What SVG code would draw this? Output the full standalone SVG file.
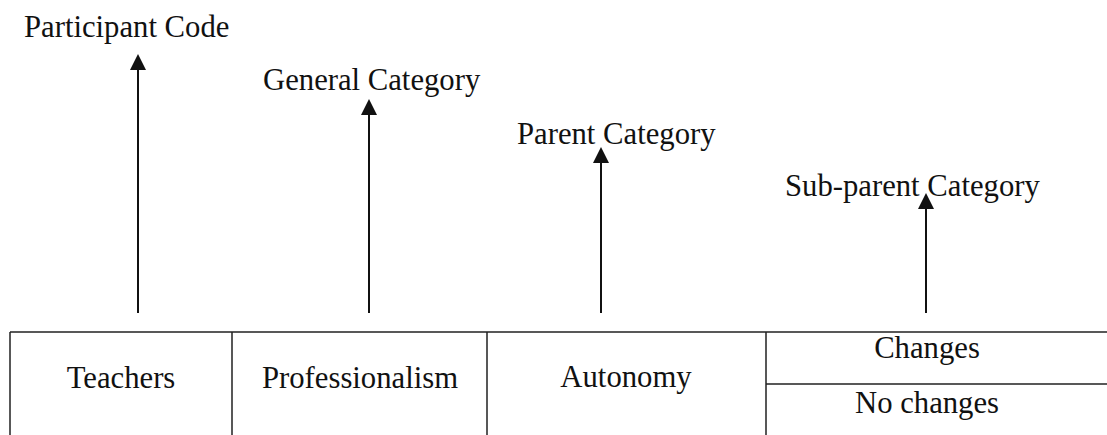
<svg xmlns="http://www.w3.org/2000/svg" width="1107" height="435" viewBox="0 0 1107 435">
<style>
text{font-family:"Liberation Serif","Times New Roman",serif;font-size:30.7px;fill:#111}
.ln{stroke:#222;stroke-width:1.5;fill:none}
.ar{stroke:#111;stroke-width:2;fill:none}
</style>
<defs>
<marker id="ah" markerWidth="8" markerHeight="8" refX="7" refY="4" orient="auto" markerUnits="strokeWidth">
<path d="M0,0 L8,4 L0,8 Z" fill="#111"/>
</marker>
</defs>
<rect width="1107" height="435" fill="#fff"/>
<g id="table">
<path class="ln" d="M10,332 H1107 M10,332 V435 M232,332 V435 M487,332 V435 M766,332 V435 M766,384 H1107"/>
</g>
<g id="n-teachers"><text x="121" y="388" text-anchor="middle">Teachers</text></g>
<g id="n-professionalism"><text x="360" y="388" text-anchor="middle">Professionalism</text></g>
<g id="n-autonomy"><text x="626" y="387" text-anchor="middle">Autonomy</text></g>
<g id="n-changes"><text x="927" y="358" text-anchor="middle">Changes</text></g>
<g id="n-nochanges"><text x="927" y="413" text-anchor="middle">No changes</text></g>
<g id="l-participant"><text x="24" y="37">Participant Code</text></g>
<g id="l-general"><text x="263" y="90">General Category</text></g>
<g id="l-parent"><text x="517" y="144">Parent Category</text></g>
<g id="l-subparent"><text x="785" y="196">Sub-parent Category</text></g>
<g id="connectors">
<line class="ar" x1="138" y1="313" x2="138" y2="56" marker-end="url(#ah)"/>
<line class="ar" x1="369" y1="313" x2="369" y2="101" marker-end="url(#ah)"/>
<line class="ar" x1="601" y1="313" x2="601" y2="149" marker-end="url(#ah)"/>
<line class="ar" x1="926" y1="313" x2="926" y2="195" marker-end="url(#ah)"/>
</g>
</svg>
